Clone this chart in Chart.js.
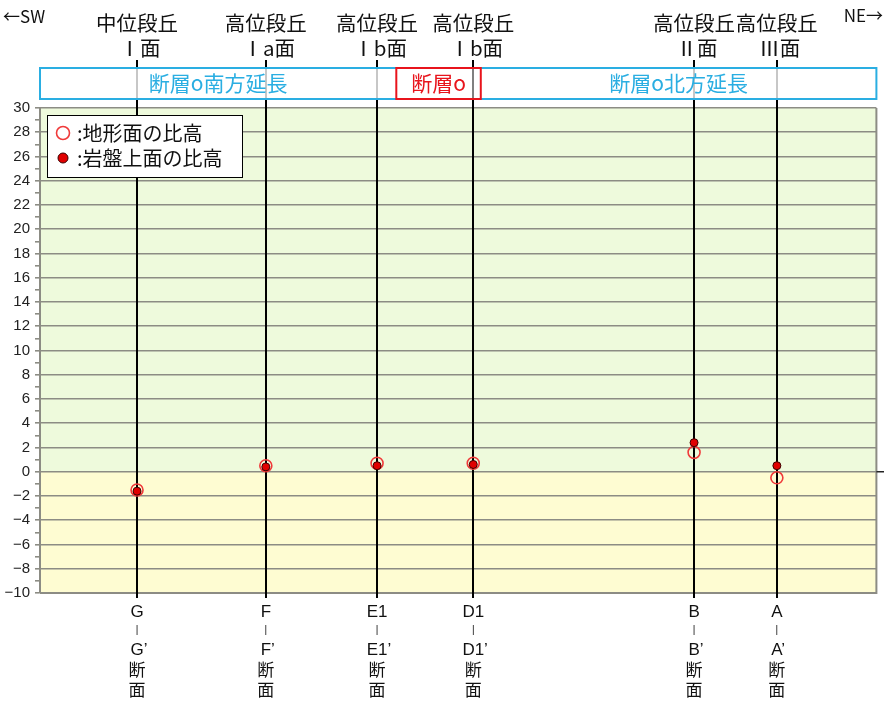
<!DOCTYPE html>
<html>
<head>
<meta charset="utf-8">
<script src="https://cdn.jsdelivr.net/npm/chart.js@4/dist/chart.umd.min.js"></script>
<style>
  html, body { margin: 0; padding: 0; background: #fff; overflow: hidden; }
  canvas { display: block; }
</style>
</head>
<body>
<canvas id="c" width="884" height="701"></canvas>
<script>
// sections along the profile, SW -> NE
const sections = ['G', 'F', 'E1', 'D1', 'B', 'A'];
const distance = [11.6, 27.0, 40.3, 51.8, 78.2, 88.1];
const terraceName = ['中位段丘', '高位段丘', '高位段丘', '高位段丘', '高位段丘', '高位段丘'];
const terraceFace = ['Ⅰ面', 'Ⅰa面', 'Ⅰb面', 'Ⅰb面', 'Ⅱ面', 'Ⅲ面'];
const terrainHeight = [-1.5, 0.5, 0.7, 0.7, 1.6, -0.5];
const bedrockHeight = [-1.6, 0.4, 0.5, 0.6, 2.4, 0.5];
const seriesNames = ['地形面の比高', '岩盤上面の比高'];
const faultLabels = ['断層o南方延長', '断層o', '断層o北方延長'];
const faultSpan = [42.6, 52.7];
const yMin = -10, yMax = 30, yStep = 2;

const JP = '"Noto Sans CJK JP", "Noto Sans", sans-serif';
const LAT = '"Liberation Sans", Arial, sans-serif';
const GRID = '#8c8c84';
const BLUE = '#2aaee2';
const RED = '#e8141c';

const terrainStyle = { radius: 6, fill: 'rgba(255,255,255,0)', stroke: '#f03a3a', width: 1.6 };
const bedrockStyle = { radius: 4, fill: '#e00000', stroke: '#3a0000', width: 1 };

function toPoints(vals) {
  return vals.map((v, i) => ({ x: distance[i], y: v }));
}

const bandPlugin = {
  id: 'bands',
  beforeDraw(chart) {
    const { ctx, chartArea: a, scales: { y } } = chart;
    const y0 = y.getPixelForValue(0);
    ctx.save();
    ctx.fillStyle = '#eefadc';
    ctx.fillRect(a.left, a.top, a.width, y0 - a.top);
    ctx.fillStyle = '#fefcd2';
    ctx.fillRect(a.left, y0, a.width, a.bottom - y0);
    ctx.restore();
  },
  beforeDatasetsDraw(chart) {
    const { ctx, chartArea: a, scales: { x, y } } = chart;
    ctx.save();
    // right / bottom frame
    ctx.strokeStyle = GRID;
    ctx.lineWidth = 2;
    ctx.beginPath();
    ctx.moveTo(a.left, a.bottom);
    ctx.lineTo(a.right, a.bottom);
    ctx.lineTo(a.right, a.top);
    ctx.stroke();
    // zero tick on the right
    const y0 = y.getPixelForValue(0);
    ctx.strokeStyle = '#222';
    ctx.lineWidth = 1.5;
    ctx.beginPath();
    ctx.moveTo(a.right, y0);
    ctx.lineTo(chart.width, y0);
    ctx.stroke();
    // section lines
    ctx.strokeStyle = '#000';
    ctx.lineWidth = 2;
    distance.forEach(d => {
      const px = Math.round(x.getPixelForValue(d));
      ctx.beginPath();
      ctx.moveTo(px, 60);
      ctx.lineTo(px, a.bottom + 5);
      ctx.stroke();
    });
    ctx.restore();
  },
  afterDatasetsDraw(chart) {
    const { ctx, chartArea: a, scales: { x } } = chart;
    const top = 68, h = 31;
    const r0 = x.getPixelForValue(faultSpan[0]);
    const r1 = x.getPixelForValue(faultSpan[1]);
    ctx.save();
    ctx.fillStyle = 'rgba(255,255,255,0.78)';
    ctx.fillRect(a.left, top, r0 - a.left, h);
    ctx.fillRect(r1, top, a.right - r1, h);
    ctx.strokeStyle = BLUE;
    ctx.lineWidth = 2;
    ctx.strokeRect(a.left, top, a.right - a.left, h);
    ctx.fillStyle = 'rgba(255,255,255,0.5)';
    ctx.fillRect(r0, top, r1 - r0, h);
    ctx.strokeStyle = RED;
    ctx.strokeRect(r0, top, r1 - r0, h);

    ctx.font = '21px ' + JP;
    ctx.textAlign = 'center';
    ctx.textBaseline = 'middle';
    ctx.fillStyle = BLUE;
    ctx.fillText(faultLabels[0], (a.left + r0) / 2, top + h / 2);
    ctx.fillText(faultLabels[2], (r1 + a.right) / 2, top + h / 2);
    ctx.fillStyle = RED;
    ctx.fillText(faultLabels[1], (r0 + r1) / 2, top + h / 2);

    // terrace names above
    ctx.fillStyle = '#111';
    ctx.font = '20.5px ' + JP;
    distance.forEach((d, i) => {
      const px = x.getPixelForValue(d);
      ctx.fillText(terraceName[i], px, 23);
      ctx.fillText(terraceFace[i], px + 3, 48);
    });
    ctx.font = '17px ' + JP;
    ctx.textAlign = 'left';
    ctx.fillText('←SW', 3, 17);
    ctx.textAlign = 'right';
    ctx.fillText('NE→', 883, 16);

    // section names below
    distance.forEach((d, i) => {
      const px = x.getPixelForValue(d);
      const s = sections[i];
      ctx.font = '17px ' + LAT;
      ctx.textAlign = 'center';
      ctx.fillText(s, px, 612);
      const w = ctx.measureText(s).width;
      ctx.textAlign = 'left';
      ctx.fillText(s + '’', px - w / 2, 650);
      ctx.textAlign = 'center';
      ctx.font = '10px ' + LAT;
      ctx.fillText('|', px, 630);
      ctx.font = '17px ' + JP;
      ctx.fillText('断', px, 670);
      ctx.fillText('面', px, 690);
    });
    ctx.restore();
  },
  afterDraw(chart) {
    const { ctx } = chart;
    ctx.save();
    ctx.fillStyle = '#fff';
    ctx.fillRect(47, 115, 196, 63);
    ctx.strokeStyle = '#000';
    ctx.lineWidth = 1;
    ctx.strokeRect(47.5, 115.5, 195, 62);
    [terrainStyle, bedrockStyle].forEach((st, i) => {
      const cy = 133 + i * 25;
      ctx.beginPath();
      ctx.arc(63, cy, st.radius + (i === 0 ? 0.5 : 1), 0, Math.PI * 2);
      ctx.fillStyle = st.fill;
      ctx.fill();
      ctx.strokeStyle = st.stroke;
      ctx.lineWidth = st.width;
      ctx.stroke();
      ctx.fillStyle = '#111';
      ctx.font = '20px ' + JP;
      ctx.textAlign = 'left';
      ctx.textBaseline = 'middle';
      ctx.fillText(':' + seriesNames[i], 77, cy);
    });
    ctx.restore();
  }
};

new Chart(document.getElementById('c'), {
  type: 'scatter',
  data: {
    datasets: [
      {
        label: seriesNames[1],
        data: toPoints(bedrockHeight),
        order: 0,
        pointRadius: bedrockStyle.radius,
        pointBackgroundColor: bedrockStyle.fill,
        pointBorderColor: bedrockStyle.stroke,
        pointBorderWidth: bedrockStyle.width,
      },
      {
        label: seriesNames[0],
        data: toPoints(terrainHeight),
        order: 1,
        pointRadius: terrainStyle.radius,
        pointBackgroundColor: terrainStyle.fill,
        pointBorderColor: terrainStyle.stroke,
        pointBorderWidth: terrainStyle.width,
      },
    ],
  },
  options: {
    responsive: false,
    animation: false,
    devicePixelRatio: 1,
    layout: { padding: { top: 108, left: 0, right: 6, bottom: 108 } },
    plugins: {
      legend: { display: false },
      tooltip: { enabled: false },
    },
    scales: {
      x: {
        type: 'linear',
        min: 0,
        max: 100,
        display: false,
      },
      y: {
        min: yMin,
        max: yMax,
        afterFit(scale) { scale.width = 40; },
        border: { color: GRID, width: 2 },
        grid: {
          color: c => (c.tick && c.tick.value % yStep === 0 ? GRID : 'rgba(0,0,0,0)'),
          tickColor: GRID,
          lineWidth: 1.6,
          tickLength: 5,
        },
        ticks: {
          stepSize: 1,
          autoSkip: false,
          maxTicksLimit: 100,
          padding: 5,
          color: '#222',
          font: { family: LAT, size: 15 },
          callback: v => (v % yStep === 0 ? (v < 0 ? '−' + Math.abs(v) : String(v)) : ''),
        },
      },
    },
  },
  plugins: [bandPlugin],
});
</script>
</body>
</html>
